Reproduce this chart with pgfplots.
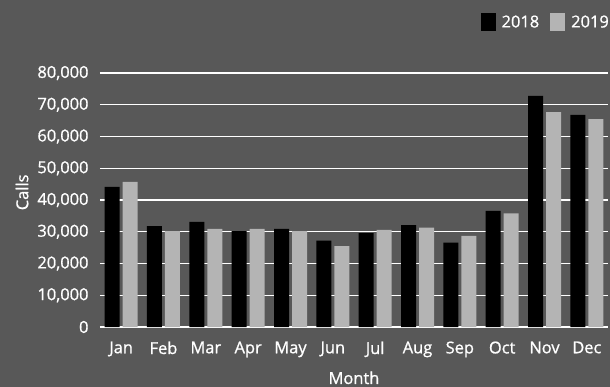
\documentclass[border=0pt]{standalone}
\usepackage{fontspec}
\setmainfont{Open Sans}[FakeBold=0.9]
\usepackage{pgfplots}
\usepackage{pgfplotstable}
\pgfplotsset{compat=1.18}

\definecolor{bg}{RGB}{88,88,88}
\definecolor{lightbar}{RGB}{180,180,180}

% Monthly call volume, 2018 vs 2019
\pgfplotstableread{
idx calls2018 calls2019
0  44100 45700
1  31800 30200
2  33100 30900
3  30200 30900
4  30900 30200
5  27200 25500
6  29600 30600
7  32100 31300
8  26600 28700
9  36600 35800
10 72800 67700
11 66800 65500
}\calls

\begin{document}
\begin{tikzpicture}
\fill[bg] (-100bp,-60bp) rectangle (510bp,327bp);
\begin{axis}[
  at={(0,0)}, anchor=south west,
  scale only axis, width=508bp, height=254bp,
  ybar=3bp, bar width=15bp,
  xmin=-0.5, xmax=11.5, ymin=0, ymax=80000,
  xtick=data,
  xticklabels={Jan,Feb,Mar,Apr,May,Jun,Jul,Aug,Sep,Oct,Nov,Dec},
  ytick={0,10000,...,80000},
  ymajorgrids,
  grid style={white, line width=1.3bp},
  axis line style={draw=none},
  major tick length=0pt,
  font=\fontsize{16.5}{19}\selectfont,
  ticklabel style={text=white},
  /pgf/number format/assume math mode=true,
  yticklabel style={/pgf/number format/1000 sep={,}, xshift=-8bp},
  scaled y ticks=false,
  xticklabel style={yshift=-11bp},
  xlabel={Month}, ylabel={Calls},
  label style={text=white},
  x label style={at={(axis description cs:0.5,-0.2)}, anchor=center},
  y label style={at={(axis description cs:-0.1535,0.53)}, anchor=center},
  legend style={at={(axis description cs:1,1.2)}, anchor=east, xshift=2bp,
    draw=none, fill=none, text=white, inner sep=0pt,
    legend columns=2,
    nodes={inner xsep=1bp},
    /tikz/every odd column/.append style={column sep=5bp},
    /tikz/every even column/.append style={column sep=10bp}},
  legend image code/.code={\fill[#1] (0bp,-9bp) rectangle (15bp,9bp);},
]
\addplot[fill=black, draw=none] table[x=idx, y=calls2018] {\calls};
\addplot[fill=lightbar, draw=none] table[x=idx, y=calls2019] {\calls};
\legend{2018,2019}
\end{axis}
\pgfresetboundingbox
\useasboundingbox (-100bp,-60bp) rectangle (510bp,327bp);
\end{tikzpicture}
\end{document}
